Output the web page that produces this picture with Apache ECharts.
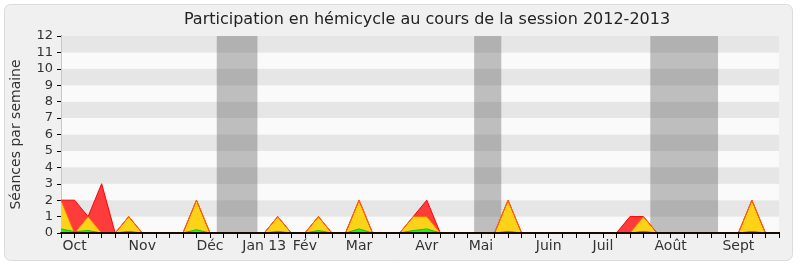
<!DOCTYPE html>
<html>
<head>
<meta charset="utf-8">
<script src="https://cdn.jsdelivr.net/npm/echarts@6/dist/echarts.min.js"></script>
<style>
  html, body { margin: 0; padding: 0; background: #ffffff; }
  #chart { width: 800px; height: 267px; }
</style>
</head>
<body>
<div id="chart"></div>
<script>
// Weekly attendance, session 2012-2013 (54 weeks, Oct 2012 -> Sept 2013)
var presences = [2,2,1,3,0,1,0,0,0,0, 2,0,0,0,0,0,1,0,0,1, 0,0,2,0,0,0,1,2,0,0, 0,0,0,2,0,0,0,0,0,0, 0,0,1,1,0,0,0,0,0,0, 0,2,0,0];
var participations = [2,0,1,0,0,1,0,0,0,0, 2,0,0,0,0,0,1,0,0,1, 0,0,2,0,0,0,1,1,0,0, 0,0,0,2,0,0,0,0,0,0, 0,0,0,1,0,0,0,0,0,0, 0,2,0,0];
var interventions = [0.25,0.08,0.15,0,0,0.1,0,0,0,0, 0.2,0,0,0,0,0,0.1,0,0,0.15, 0,0,0.25,0,0,0,0.15,0.25,0,0, 0,0,0,0.1,0,0,0,0,0,0, 0,0,0,0.1,0,0,0,0,0,0, 0,0.1,0,0];

// Month labels and the week they sit on
var monthWeeks = [1, 6, 11, 15, 18, 22, 27, 31, 36, 40, 45, 50];
var monthNames = ['Oct', 'Nov', 'Déc', 'Jan 13', 'Fév', 'Mar', 'Avr', 'Mai', 'Juin', 'Juil', 'Août', 'Sept'];

// Parliamentary recesses (in weeks)
var vacances = [[11.5, 14.5], [30.5, 32.5], [43.5, 48.5]];

var yTicks = [0,1,2,3,4,5,6,7,8,9,10,11,12];

function pairs(arr) {
  return arr.map(function (v, i) { return [i, v]; });
}

var FONT = 'DejaVu Sans';
var chart = echarts.init(document.getElementById('chart'), null, { renderer: 'canvas' });

chart.setOption({
  animation: false,
  backgroundColor: '#ffffff',
  textStyle: { fontFamily: FONT },
  graphic: [{
    type: 'rect',
    z: -10,
    shape: { x: 4.5, y: 4.5, width: 788, height: 256, r: 6 },
    style: { fill: '#f0f0f0', stroke: '#dcdcdc', lineWidth: 1 }
  }],
  title: {
    text: 'Participation en hémicycle au cours de la session 2012-2013',
    left: 422,
    textAlign: 'center',
    top: 7,
    textStyle: { fontFamily: FONT, fontSize: 16, fontWeight: 'normal', color: '#222' }
  },
  grid: { left: 61, right: 21, top: 36, bottom: 34, containLabel: false },
  xAxis: [{
    type: 'value',
    min: 0,
    max: presences.length - 1,
    interval: 1,
    z: 10,
    axisLine: { show: true, onZero: false, lineStyle: { color: '#1a0a00', width: 2 } },
    axisTick: { show: true, length: 5, lineStyle: { color: '#000', width: 1 } },
    splitLine: { show: false },
    axisLabel: {
      show: true,
      margin: 6,
      fontFamily: FONT,
      fontSize: 14,
      color: '#333',
      showMinLabel: true,
      showMaxLabel: true,
      formatter: function (v) {
        var k = monthWeeks.indexOf(v);
        return k >= 0 ? monthNames[k] : '';
      }
    }
  }, {
    type: 'value',
    position: 'top',
    min: 0,
    max: presences.length - 1,
    interval: 1,
    axisLine: { show: false },
    axisTick: { show: true, length: 1, lineStyle: { color: '#000' } },
    axisLabel: { show: false },
    splitLine: { show: false }
  }],
  yAxis: [{
    type: 'value',
    min: yTicks[0],
    max: yTicks[yTicks.length - 1],
    interval: 1,
    name: 'Séances par semaine',
    nameLocation: 'middle',
    nameGap: 38,
    nameTextStyle: { fontFamily: FONT, fontSize: 14, color: '#333' },
    axisLine: { show: true, lineStyle: { color: '#000' } },
    axisTick: { show: true, length: 4, lineStyle: { color: '#000' } },
    axisLabel: { fontFamily: FONT, fontSize: 13, color: '#333', margin: 8 },
    splitLine: { show: false },
    splitArea: { show: true, areaStyle: { color: ['#fafafa', '#e6e6e6'] } }
  }, {
    type: 'value',
    position: 'right',
    min: 0,
    max: 12,
    interval: 1,
    axisLine: { show: true, lineStyle: { color: '#c8c8c8' } },
    axisTick: { show: false },
    axisLabel: { show: false },
    splitLine: { show: false }
  }],
  series: [{
    name: 'Présences',
    type: 'line',
    data: pairs(presences),
    symbol: 'none',
    lineStyle: { color: '#ff0000', width: 1 },
    areaStyle: { color: '#ff3c3c', opacity: 1 },
    markArea: {
      silent: true,
      itemStyle: { color: 'rgba(76,76,76,0.35)' },
      data: vacances.map(function (v) {
        return [{ xAxis: v[0], yAxis: 12 }, { xAxis: v[1], yAxis: 0 }];
      })
    }
  }, {
    name: 'Participations',
    type: 'line',
    data: pairs(participations),
    symbol: 'none',
    lineStyle: { color: '#ff6a00', width: 1 },
    areaStyle: { color: '#ffd21a', opacity: 1 }
  }, {
    name: 'Interventions',
    type: 'line',
    data: pairs(interventions),
    symbol: 'none',
    lineStyle: { color: '#00cc00', width: 1 },
    areaStyle: { color: '#22ee22', opacity: 1 }
  }]
});
</script>
</body>
</html>
